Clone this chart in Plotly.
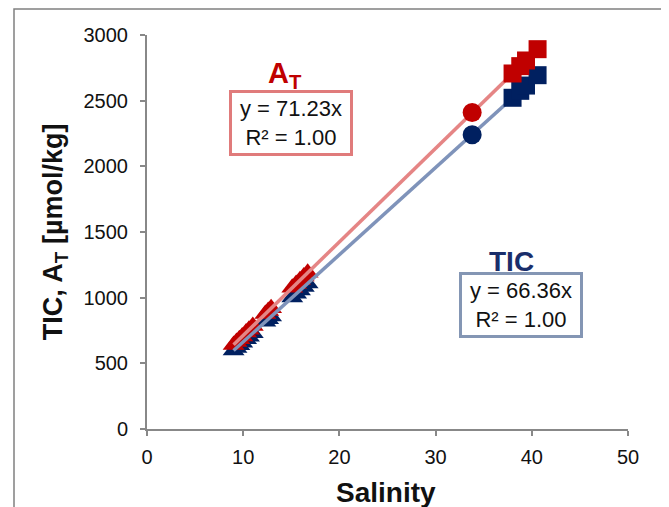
import plotly.graph_objects as go

# ---- data ----
sal_tri = [9.0, 9.3, 9.6, 9.9, 10.3, 10.6, 11.0, 12.3, 12.6, 12.9, 15.1, 15.5, 15.9, 16.3, 16.7]
at_tri = [640, 662, 684, 705, 734, 755, 784, 876, 898, 919, 1076, 1104, 1133, 1161, 1190]
tic_tri = [597, 617, 637, 657, 684, 703, 730, 816, 836, 856, 1002, 1029, 1055, 1082, 1108]

sal_circ = [33.8]
at_circ = [2410]
tic_circ = [2240]

sal_sq = [38.0, 38.8, 39.4, 40.6]
at_sq = [2707, 2763, 2806, 2892]
tic_sq = [2522, 2575, 2615, 2694]

slopes = {"AT": 71.23, "TIC": 66.36}
x_ticks = [0, 10, 20, 30, 40, 50]
y_ticks = [0, 500, 1000, 1500, 2000, 2500, 3000]

RED = "#C00000"
NAVY = "#002060"
RED_LINE = "#E58585"
BLUE_LINE = "#7F93BA"

all_sal = sal_tri + sal_circ + sal_sq
smin, smax = min(all_sal), max(all_sal)

fig = go.Figure()

# triangles (below trendlines)
fig.add_trace(go.Scatter(x=sal_tri, y=tic_tri, mode="markers",
                         marker=dict(symbol="triangle-up", size=19, color=NAVY, line=dict(width=0))))
fig.add_trace(go.Scatter(x=sal_tri, y=at_tri, mode="markers",
                         marker=dict(symbol="triangle-up", size=19, color=RED, line=dict(width=0))))

# trendlines
fig.add_trace(go.Scatter(x=[smin, smax], y=[slopes["TIC"] * smin, slopes["TIC"] * smax],
                         mode="lines", line=dict(color=BLUE_LINE, width=3.5)))
fig.add_trace(go.Scatter(x=[smin, smax], y=[slopes["AT"] * smin, slopes["AT"] * smax],
                         mode="lines", line=dict(color=RED_LINE, width=3.5)))

# circles and squares
fig.add_trace(go.Scatter(x=sal_circ, y=tic_circ, mode="markers",
                         marker=dict(symbol="circle", size=19, color=NAVY, line=dict(width=0))))
fig.add_trace(go.Scatter(x=sal_circ, y=at_circ, mode="markers",
                         marker=dict(symbol="circle", size=19, color=RED, line=dict(width=0))))
fig.add_trace(go.Scatter(x=sal_sq, y=tic_sq, mode="markers",
                         marker=dict(symbol="square", size=18, color=NAVY, line=dict(width=0))))
fig.add_trace(go.Scatter(x=sal_sq, y=at_sq, mode="markers",
                         marker=dict(symbol="square", size=18, color=RED, line=dict(width=0))))

FONT = "Arial, Liberation Sans, sans-serif"

axis_common = dict(showgrid=False, zeroline=False, showline=True, linecolor="#888888",
                   linewidth=2, ticks="outside", ticklen=5, tickwidth=2, tickcolor="#888888",
                   tickfont=dict(family=FONT, size=20, color="#111111"))

fig.update_layout(
    width=661, height=499,
    margin=dict(l=139, r=41, t=27, b=78),
    paper_bgcolor="white", plot_bgcolor="white",
    showlegend=False,
    xaxis=dict(range=[0, 50], tickvals=x_ticks, ticklabelstandoff=4, **axis_common),
    yaxis=dict(range=[0, 3000], tickvals=y_ticks, ticklabelstandoff=8, **axis_common),
    font=dict(family=FONT),
)

# axis titles
fig.add_annotation(text="<b>TIC, A<sub>T</sub> [µmol/kg]</b>", xref="paper", yref="paper",
                   x=-0.191, y=0.5, xanchor="center", yanchor="middle",
                   textangle=-90, showarrow=False,
                   font=dict(family=FONT, size=27, color="#111111"))
fig.add_annotation(text="<b>Salinity</b>", xref="paper", yref="paper",
                   x=0.497, y=-0.16, xanchor="center", yanchor="middle", showarrow=False,
                   font=dict(family=FONT, size=28, color="#111111"))

# series labels and equation boxes
fig.add_annotation(text="<b>A<sub>T</sub></b>", x=14.35, y=2695, showarrow=False,
                   font=dict(family=FONT, size=29, color=RED))
fig.add_annotation(text="y = 71.23x<br>R² = 1.00", x=14.97, y=2330, showarrow=False,
                   font=dict(family=FONT, size=22, color="#111111"),
                   bordercolor="#E07B7B", borderwidth=3, borderpad=3,
                   width=112, height=54, bgcolor="white")
fig.add_annotation(text="<b>TIC</b>", x=37.84, y=1279, showarrow=False,
                   font=dict(family=FONT, size=28, color="#1A2E6B"))
fig.add_annotation(text="y = 66.36x<br>R² = 1.00", x=38.88, y=944, showarrow=False,
                   font=dict(family=FONT, size=22, color="#111111"),
                   bordercolor="#8496B4", borderwidth=3, borderpad=3,
                   width=112, height=54, bgcolor="white")

# outer frame
fig.add_shape(type="rect", xref="paper", yref="paper",
              x0=-0.2765, x1=1.0811, y0=-0.25, y1=1.066,
              line=dict(color="#808080", width=1.5), fillcolor="rgba(0,0,0,0)")

fig.write_html("out.html")
